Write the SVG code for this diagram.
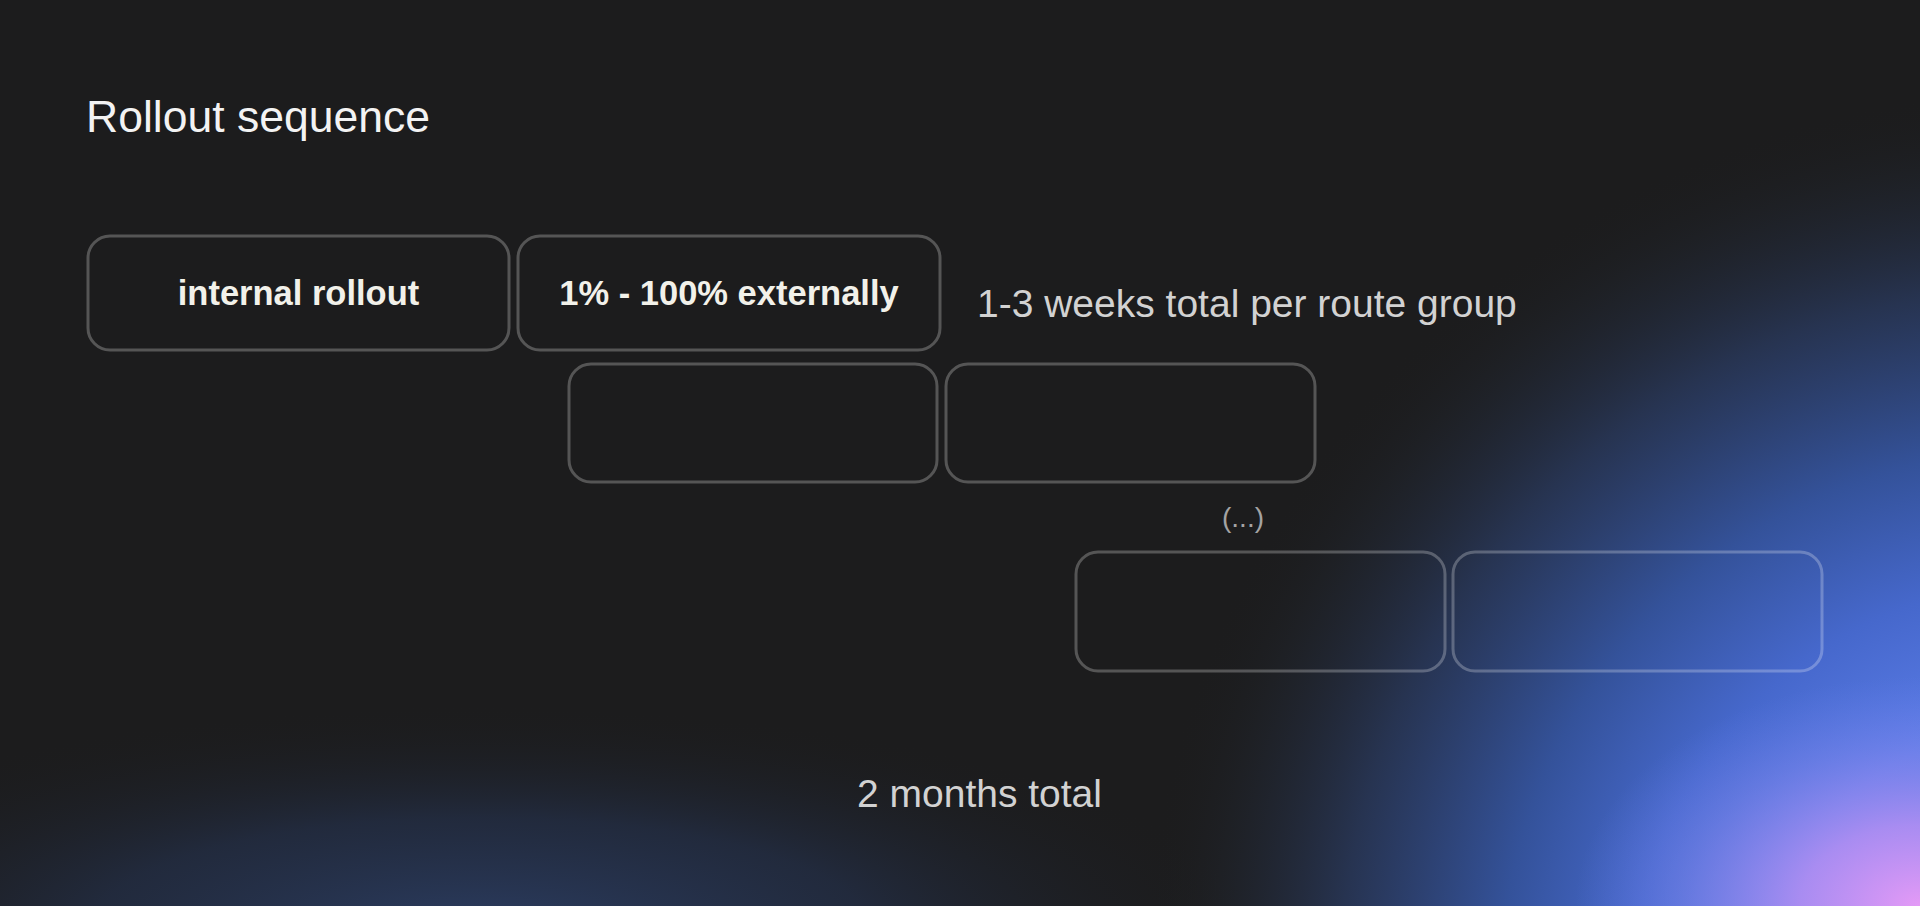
<svg xmlns="http://www.w3.org/2000/svg" width="1920" height="906" viewBox="0 0 1920 906">
  <defs>
    <radialGradient id="glowBlue" gradientUnits="userSpaceOnUse" cx="2040" cy="990" r="900">
      <stop offset="0" stop-color="#6b86f2"/>
      <stop offset="0.3" stop-color="#5a7be6"/>
      <stop offset="0.45" stop-color="#4668cc"/>
      <stop offset="0.6" stop-color="#34529a"/>
      <stop offset="0.78" stop-color="#283656" stop-opacity="0.9"/>
      <stop offset="0.92" stop-color="#20242c" stop-opacity="0.5"/>
      <stop offset="1" stop-color="#1c1c1d" stop-opacity="0"/>
    </radialGradient>
    <radialGradient id="glowPink" gradientUnits="userSpaceOnUse" cx="1920" cy="906" r="230" gradientTransform="translate(1920 906) scale(1.5 1) translate(-1920 -906)">
      <stop offset="0" stop-color="#e49af6"/>
      <stop offset="0.35" stop-color="#b68ff3" stop-opacity="0.85"/>
      <stop offset="0.7" stop-color="#8587ee" stop-opacity="0.4"/>
      <stop offset="1" stop-color="#6a80ee" stop-opacity="0"/>
    </radialGradient>
    <radialGradient id="glowLeft" gradientUnits="userSpaceOnUse" cx="480" cy="930" r="300" gradientTransform="translate(480 930) scale(2.6 0.75) translate(-480 -930)">
      <stop offset="0" stop-color="#2b3c60"/>
      <stop offset="0.5" stop-color="#24304a" stop-opacity="0.7"/>
      <stop offset="1" stop-color="#1c1c1d" stop-opacity="0"/>
    </radialGradient>
  </defs>
  <style>
    .box { fill: none; stroke: #ffffff; stroke-opacity: 0.25; stroke-width: 3; }
    .title { font-family: "Liberation Sans", Arial, sans-serif; font-size: 44.5px; fill: #f3f3f3; }
    .label { font-family: "Liberation Sans", Arial, sans-serif; font-size: 34.5px; font-weight: bold; fill: #f2f1ea; text-anchor: middle; }
    .note { font-family: "Liberation Sans", Arial, sans-serif; font-size: 39px; fill: #d2d2d2; }
    .dots { font-family: "Liberation Sans", Arial, sans-serif; font-size: 28px; fill: #a3a3a3; text-anchor: middle; }
  </style>
  <rect id="background" x="0" y="0" width="1920" height="906" fill="#1c1c1d"/>
  <rect x="0" y="0" width="1920" height="906" fill="url(#glowLeft)"/>
  <rect x="0" y="0" width="1920" height="906" fill="url(#glowBlue)"/>
  <rect x="0" y="0" width="1920" height="906" fill="url(#glowPink)"/>

  <text id="title" class="title" x="86" y="132">Rollout sequence</text>

  <g id="node-internal-rollout">
    <rect class="box" x="88" y="236" width="421" height="114" rx="22"/>
    <text class="label" x="298.5" y="305">internal rollout</text>
  </g>
  <g id="node-external">
    <rect class="box" x="518" y="236" width="422" height="114" rx="22"/>
    <text class="label" x="729" y="305">1% - 100% externally</text>
  </g>
  <text id="note-weeks" class="note" x="977" y="317">1-3 weeks total per route group</text>

  <g id="node-row2-a">
    <rect class="box" x="569" y="364" width="368" height="118" rx="22"/>
  </g>
  <g id="node-row2-b">
    <rect class="box" x="946" y="364" width="369" height="118" rx="22"/>
  </g>

  <text id="ellipsis" class="dots" x="1243" y="527">(...)</text>

  <g id="node-row3-a">
    <rect class="box" x="1076" y="552" width="369" height="119" rx="22"/>
  </g>
  <g id="node-row3-b">
    <rect class="box" x="1453" y="552" width="369" height="119" rx="22"/>
  </g>

  <g id="connectors"></g>

  <text id="note-total" class="note" x="857" y="807">2 months total</text>
</svg>
